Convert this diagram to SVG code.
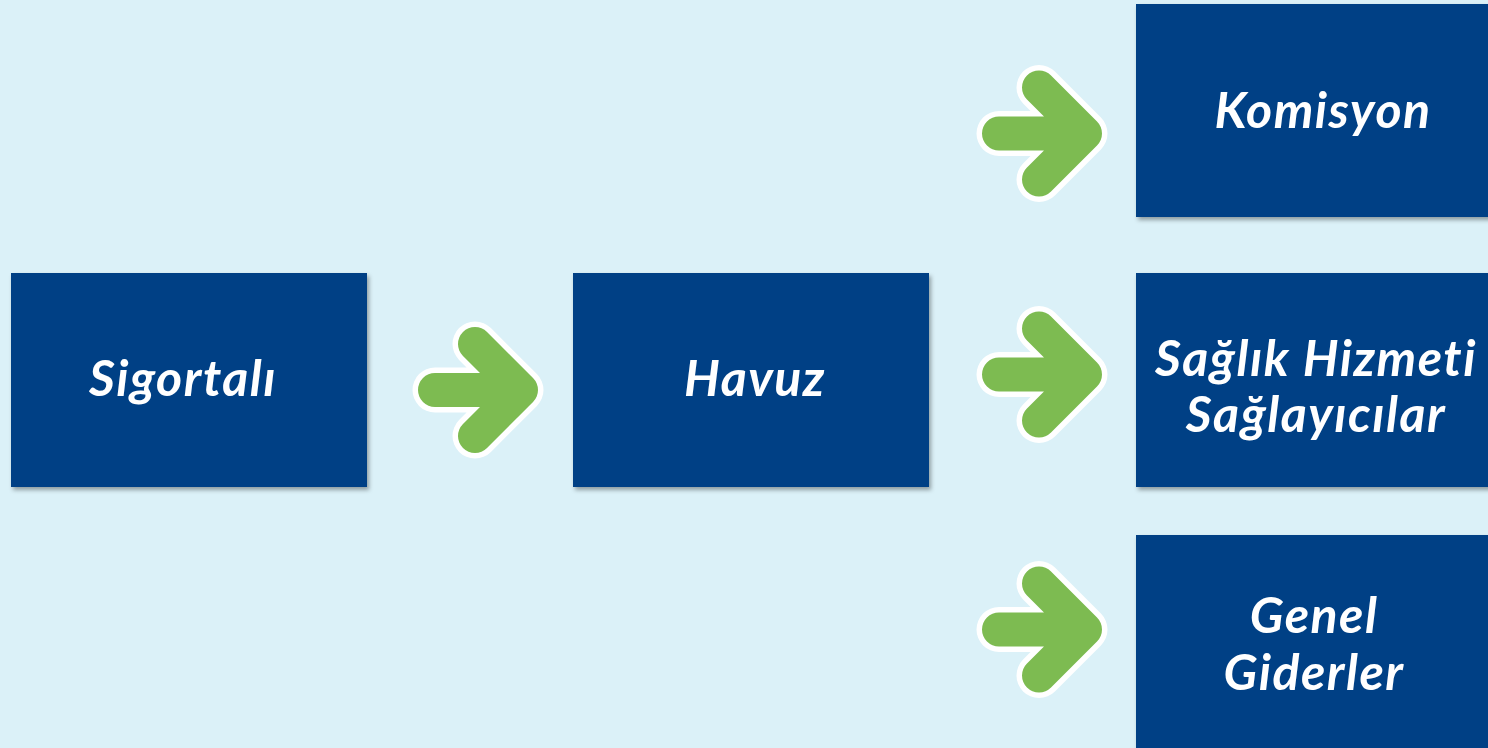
<svg xmlns="http://www.w3.org/2000/svg" xmlns:xlink="http://www.w3.org/1999/xlink" width="1488" height="748" viewBox="0 0 1488 748">
<style>
.box{fill:#004185;filter:url(#sh)}
.lbl{font-family:Lato,"Open Sans","DejaVu Sans",sans-serif;font-weight:bold;font-style:italic;font-size:50px;letter-spacing:1.5px;fill:#ffffff;text-anchor:middle}
.aw{fill:none;stroke:#ffffff;stroke-width:45;stroke-linecap:round;stroke-linejoin:round}
.ag{fill:none;stroke:#7dbb51;stroke-width:34;stroke-linecap:round;stroke-linejoin:round}
</style>
<defs>
<filter id="sh" x="-10%" y="-10%" width="120%" height="125%">
<feDropShadow dx="2" dy="3" stdDeviation="2" flood-color="#000" flood-opacity="0.35"/>
</filter>
<g id="arrow">
<path class="aw" d="M-86 0H0M-46 -46L0 0L-46 46"/>
<path class="ag" d="M-86 0H0M-46 -46L0 0L-46 46"/>
</g>
</defs>
<rect width="1488" height="748" fill="#dbf1f8"/>
<g id="connectors">
<use xlink:href="#arrow" transform="translate(521,390)"/>
<use xlink:href="#arrow" transform="translate(1085,133.5)"/>
<use xlink:href="#arrow" transform="translate(1085,374.5)"/>
<use xlink:href="#arrow" transform="translate(1085,629.5)"/>
</g>
<g id="sigortali"><rect class="box" x="11" y="273" width="356" height="214"/><text class="lbl" x="183" y="396">Sigortalı</text></g>
<g id="havuz"><rect class="box" x="573" y="273" width="356" height="214"/><text class="lbl" x="755" y="396">Havuz</text></g>
<g id="komisyon"><rect class="box" x="1136" y="4" width="356" height="213"/><text class="lbl" x="1323" y="128">Komisyon</text></g>
<g id="saglik"><rect class="box" x="1136" y="273" width="356" height="214"/><text class="lbl" x="1316" y="376">Sağlık Hizmeti</text><text class="lbl" x="1316" y="432">Sağlayıcılar</text></g>
<g id="genel"><rect class="box" x="1136" y="535" width="356" height="214"/><text class="lbl" x="1314" y="633">Genel</text><text class="lbl" x="1314" y="690">Giderler</text></g>
</svg>
